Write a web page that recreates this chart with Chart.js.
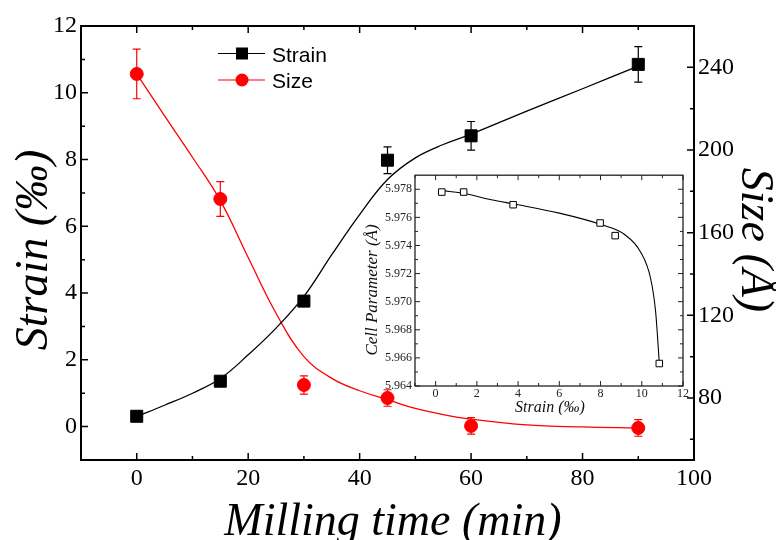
<!DOCTYPE html>
<html>
<head>
<meta charset="utf-8">
<script src="https://cdn.jsdelivr.net/npm/chart.js@4.4.0/dist/chart.umd.min.js"></script>
<style>
body { margin: 0; background: #fff; }
#wrap { position: relative; width: 776px; height: 540px; overflow: hidden; }
#mainChart { position: absolute; left: 0; top: 0; }
#insetChart { position: absolute; left: 350px; top: 165px; }
</style>
</head>
<body>
<div id="wrap">
<canvas id="mainChart" width="776" height="540"></canvas>
<canvas id="insetChart" width="340" height="250"></canvas>
</div>
<script>
// measured points (main plot)
const millingTime = [0, 15, 30, 45, 60, 90];
const strain = [0.31, 1.36, 3.76, 7.98, 8.71, 10.85];
const strainErr = [0.1, 0.1, 0.15, 0.4, 0.43, 0.53];
const size = [236.8, 176.3, 86.3, 80, 66.5, 65.5];
const sizeErr = [12, 8.4, 4.4, 4, 4, 4];

// fitted curves
const fitTime = [0, 5, 10, 15, 20, 25, 30, 35, 40, 45, 50, 55, 60, 70, 80, 90];
const strainFit = [0.3, 0.64, 1.0, 1.44, 2.15, 2.95, 3.9, 5.15, 6.35, 7.4, 8.05, 8.45, 8.76, 9.45, 10.12, 10.8];
const sizeFit = [236.8, 216.5, 196.5, 175.5, 148, 121, 100, 89.5, 83.5, 79.2, 75, 72, 69.8, 67, 66, 65.5];

// inset: cell parameter vs strain
const cellStrain = [0.3, 1.36, 3.76, 7.98, 8.71, 10.85];
const cellParam = [5.9778, 5.9778, 5.9769, 5.9756, 5.9747, 5.9656];
const cellFitStrain = [0.3, 1.4, 2.7, 4, 6, 8, 9.15, 9.95, 10.43, 10.67, 10.8, 10.85];
const cellFit = [5.9779, 5.9777, 5.97725, 5.9769, 5.9763, 5.9755, 5.9748, 5.97352, 5.97165, 5.96932, 5.96675, 5.9656];

// tick labels
const xTicks = [0, 20, 40, 60, 80, 100];
const xMinor = [10, 30, 50, 70, 90];
const yTicks = [0, 2, 4, 6, 8, 10, 12];
const yMinor = [-1, 1, 3, 5, 7, 9, 11];
const y2Ticks = [80, 120, 160, 200, 240];
const y2Minor = [60, 100, 140, 180, 220];
const insetXTicks = [0, 2, 4, 6, 8, 10, 12];
const insetXMinor = [-1, 1, 3, 5, 7, 9, 11];
const insetYTicks = [5.964, 5.966, 5.968, 5.970, 5.972, 5.974, 5.976, 5.978];
const insetYMinor = [5.965, 5.967, 5.969, 5.971, 5.973, 5.975, 5.977];

const pts = (xs, ys) => xs.map((x, i) => ({ x: x, y: ys[i] }));

// box + inward ticks, origin style
function framePlugin(cfg) {
    return {
        id: 'frame',
        afterDatasetsDraw(chart) {
            const { ctx, chartArea: a, scales } = chart;
            const right = scales.y2 || scales.y;
            ctx.save();
            ctx.strokeStyle = cfg.color;
            ctx.lineWidth = cfg.tickWidth;
            ctx.beginPath();
            const vert = (vals, len) => vals.forEach(v => {
                const px = scales.x.getPixelForValue(v);
                ctx.moveTo(px, a.bottom); ctx.lineTo(px, a.bottom - len);
                ctx.moveTo(px, a.top); ctx.lineTo(px, a.top + len);
            });
            vert(cfg.xMajor, cfg.major);
            vert(cfg.xMinor, cfg.minor);
            const horiz = (scale, vals, len, onRight) => vals.forEach(v => {
                const py = scale.getPixelForValue(v);
                if (onRight) { ctx.moveTo(a.right, py); ctx.lineTo(a.right - len, py); }
                else { ctx.moveTo(a.left, py); ctx.lineTo(a.left + len, py); }
            });
            horiz(scales.y, cfg.yMajor, cfg.major, false);
            horiz(scales.y, cfg.yMinor, cfg.minor, false);
            horiz(right, cfg.rMajor, cfg.major, true);
            horiz(right, cfg.rMinor, cfg.minor, true);
            ctx.stroke();
            ctx.lineWidth = cfg.boxWidth;
            ctx.strokeRect(a.left, a.top, a.width, a.height);
            ctx.restore();
        }
    };
}

const errorBarPlugin = {
    id: 'errorBars',
    afterDatasetsDraw(chart) {
        const ctx = chart.ctx;
        chart.data.datasets.forEach((ds, i) => {
            if (!ds.errorBars) return;
            const meta = chart.getDatasetMeta(i);
            const yScale = chart.scales[ds.yAxisID];
            ctx.save();
            ctx.strokeStyle = ds.borderColor;
            ctx.lineWidth = 1.2;
            ctx.beginPath();
            ds.data.forEach((p, j) => {
                const x = meta.data[j].x;
                const top = yScale.getPixelForValue(p.y + ds.errorBars[j]);
                const bot = yScale.getPixelForValue(p.y - ds.errorBars[j]);
                ctx.moveTo(x, top); ctx.lineTo(x, bot);
                ctx.moveTo(x - 4, top); ctx.lineTo(x + 4, top);
                ctx.moveTo(x - 4, bot); ctx.lineTo(x + 4, bot);
            });
            ctx.stroke();
            ctx.restore();
        });
    }
};

const mainTitles = {
    id: 'mainTitles',
    afterDraw(chart) {
        const ctx = chart.ctx;
        ctx.save();
        ctx.fillStyle = '#000';
        ctx.font = 'italic 46px "Liberation Serif"';
        ctx.textAlign = 'center';
        ctx.textBaseline = 'alphabetic';
        ctx.fillText('Milling time (min)', 393, 535);
        ctx.save(); ctx.translate(47, 250); ctx.rotate(-Math.PI / 2);
        ctx.fillText('Strain (‰)', 0, 0); ctx.restore();
        ctx.save(); ctx.translate(742, 240); ctx.rotate(Math.PI / 2);
        ctx.fillText('Size (Å)', 0, 0); ctx.restore();

        // legend
        const items = [chart.data.datasets[0], chart.data.datasets[1]];
        ctx.font = '21px "Liberation Sans"';
        ctx.textAlign = 'left';
        items.forEach((ds, k) => {
            const y = 53.5 + k * 26.5;
            ctx.strokeStyle = ds.borderColor;
            ctx.lineWidth = 1.2;
            ctx.beginPath(); ctx.moveTo(218, y); ctx.lineTo(265, y); ctx.stroke();
            ctx.fillStyle = ds.backgroundColor;
            if (ds.pointStyle === 'rect') ctx.fillRect(236, y - 6, 12, 12);
            else { ctx.beginPath(); ctx.arc(242, y, 6.5, 0, Math.PI * 2); ctx.fill(); }
            ctx.fillStyle = '#000';
            ctx.fillText(ds.label, 272, y + 8);
        });
        ctx.restore();
    }
};

const mainCtx = document.getElementById('mainChart').getContext('2d');
const mainChart = new Chart(mainCtx, { // eslint-disable-line
    type: 'line',
    data: {
        datasets: [
            {
                label: 'Strain',
                data: pts(millingTime, strain),
                errorBars: strainErr,
                yAxisID: 'y',
                showLine: false,
                pointStyle: 'rect',
                pointRadius: 8.5,
                backgroundColor: '#000',
                borderColor: '#000',
                borderWidth: 1
            },
            {
                label: 'Size',
                data: pts(millingTime, size),
                errorBars: sizeErr,
                yAxisID: 'y2',
                showLine: false,
                pointStyle: 'circle',
                pointRadius: 6.5,
                backgroundColor: '#ff0000',
                borderColor: '#ff0000',
                borderWidth: 1
            },
            {
                label: 'Strain fit',
                data: pts(fitTime, strainFit),
                yAxisID: 'y',
                borderColor: '#000',
                borderWidth: 1.3,
                pointRadius: 0,
                tension: 0.4
            },
            {
                label: 'Size fit',
                data: pts(fitTime, sizeFit),
                yAxisID: 'y2',
                borderColor: '#ff0000',
                borderWidth: 1.3,
                pointRadius: 0,
                tension: 0.4
            }
        ]
    },
    options: {
        responsive: false,
        animation: false,
        layout: { padding: { top: 26 } },
        plugins: { legend: { display: false }, tooltip: { enabled: false } },
        scales: {
            x: {
                type: 'linear',
                min: -10,
                max: 100,
                afterBuildTicks: s => { s.ticks = xTicks.map(v => ({ value: v })); },
                afterFit: s => { s.height = 80; },
                grid: { display: false, drawTicks: false },
                border: { display: false },
                ticks: { color: '#000', padding: 4, maxRotation: 0, font: { family: 'Liberation Serif', size: 24 } }
            },
            y: {
                type: 'linear',
                position: 'left',
                min: -1,
                max: 12,
                afterBuildTicks: s => { s.ticks = yTicks.map(v => ({ value: v })); },
                afterFit: s => { s.width = 81; },
                grid: { display: false, drawTicks: false },
                border: { display: false },
                ticks: { color: '#000', padding: 4, font: { family: 'Liberation Serif', size: 24 } }
            },
            y2: {
                type: 'linear',
                position: 'right',
                min: 50,
                max: 260,
                afterBuildTicks: s => { s.ticks = y2Ticks.map(v => ({ value: v })); },
                afterFit: s => { s.width = 82; },
                grid: { display: false, drawTicks: false },
                border: { display: false },
                ticks: { color: '#000', padding: 4, font: { family: 'Liberation Serif', size: 24 } }
            }
        }
    },
    plugins: [
        framePlugin({ color: '#000', tickWidth: 1.5, boxWidth: 2, major: 7, minor: 4,
            xMajor: xTicks, xMinor: xMinor, yMajor: yTicks, yMinor: yMinor, rMajor: y2Ticks, rMinor: y2Minor }),
        errorBarPlugin,
        mainTitles
    ]
});

const insetTitles = {
    id: 'insetTitles',
    afterDraw(chart) {
        const ctx = chart.ctx;
        ctx.save();
        ctx.fillStyle = '#111';
        ctx.textAlign = 'center';
        ctx.textBaseline = 'alphabetic';
        ctx.font = 'italic 16px "Liberation Serif"';
        ctx.fillText('Strain (‰)', 200, 247);
        ctx.font = 'italic 17px "Liberation Serif"';
        ctx.save(); ctx.translate(27, 125); ctx.rotate(-Math.PI / 2);
        ctx.fillText('Cell Parameter (Å)', 0, 0); ctx.restore();
        ctx.restore();
    }
};

const insetCtx = document.getElementById('insetChart').getContext('2d');
const insetChart = new Chart(insetCtx, { // eslint-disable-line
    type: 'line',
    data: {
        datasets: [
            {
                label: 'Cell parameter',
                data: pts(cellStrain, cellParam),
                showLine: false,
                pointStyle: 'rect',
                pointRadius: 4.6,
                backgroundColor: '#fff',
                borderColor: '#000',
                borderWidth: 1
            },
            {
                label: 'Fit',
                data: pts(cellFitStrain, cellFit),
                borderColor: '#000',
                borderWidth: 1.1,
                pointRadius: 0,
                cubicInterpolationMode: 'monotone'
            }
        ]
    },
    options: {
        responsive: false,
        animation: false,
        layout: { padding: { top: 8, right: 4 } },
        plugins: { legend: { display: false }, tooltip: { enabled: false } },
        scales: {
            x: {
                type: 'linear',
                min: -1,
                max: 12,
                afterBuildTicks: s => { s.ticks = insetXTicks.map(v => ({ value: v })); },
                afterFit: s => { s.height = 29; },
                grid: { display: false, drawTicks: false },
                border: { display: false },
                ticks: { color: '#222', padding: 1, maxRotation: 0, font: { family: 'Liberation Serif', size: 12 } }
            },
            y: {
                type: 'linear',
                min: 5.964,
                max: 5.979,
                afterBuildTicks: s => { s.ticks = insetYTicks.map(v => ({ value: v })); },
                afterFit: s => { s.width = 65; },
                grid: { display: false, drawTicks: false },
                border: { display: false },
                ticks: { color: '#222', padding: 3, font: { family: 'Liberation Serif', size: 12 },
                    callback: v => v.toFixed(3) }
            }
        }
    },
    plugins: [
        framePlugin({ color: '#222', tickWidth: 1, boxWidth: 1.3, major: 5, minor: 3,
            xMajor: insetXTicks, xMinor: insetXMinor, yMajor: insetYTicks, yMinor: insetYMinor,
            rMajor: insetYTicks, rMinor: insetYMinor }),
        insetTitles
    ]
});
</script>
</body>
</html>
